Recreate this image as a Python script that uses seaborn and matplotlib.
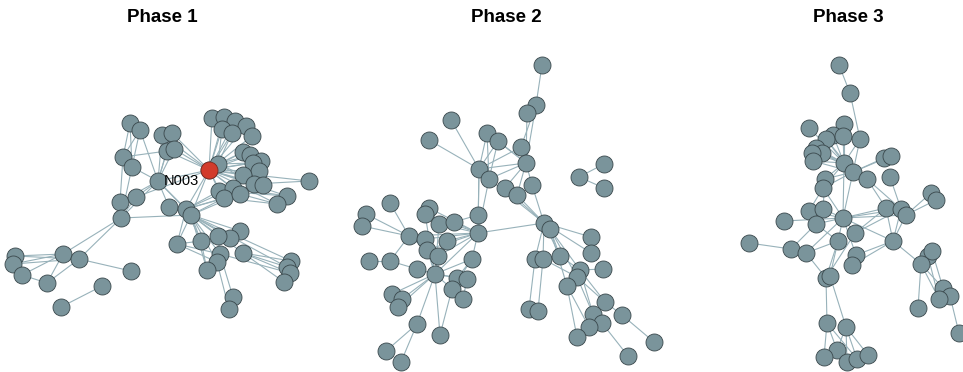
import matplotlib
matplotlib.use("Agg")
import matplotlib.pyplot as plt
from matplotlib.collections import LineCollection
import seaborn as sns
import pandas as pd

# ---- Phase 1 layout ----
p1_x = [130, 140, 123, 132, 158, 120, 136, 121, 15, 13, 63, 79, 22, 47, 131, 102, 61,
        212, 224, 235, 246, 222, 232, 252, 162, 172, 167, 174, 209, 218, 243, 250, 261,
        253, 259, 243, 254, 263, 309, 219, 233, 224, 240, 287, 277, 169, 186, 191, 240,
        230, 218, 201, 177, 243, 220, 217, 207, 291, 287, 290, 284, 233, 229]
p1_y = [123, 130, 157, 167, 181, 202, 197, 218, 256, 264, 254, 259, 275, 283, 271, 286, 307,
        118, 117, 121, 126, 129, 133, 136, 135, 133, 151, 149, 170, 164, 152, 155, 161,
        163, 171, 175, 184, 185, 181, 191, 188, 198, 194, 196, 204, 207, 209, 215, 231,
        238, 236, 241, 244, 253, 254, 262, 270, 261, 267, 273, 282, 297, 309]
p1_edges = [(0, 3), (1, 3), (1, 2), (1, 4), (0, 2), (2, 26), (3, 4), (3, 7), (2, 5),
            (5, 4), (6, 4), (5, 7), (6, 7), (7, 4), (7, 47), (7, 10), (7, 11), (6, 28),
            (10, 8), (10, 9), (10, 12), (10, 13), (11, 8), (11, 9), (11, 13), (11, 14),
            (12, 13), (15, 16),
            (28, 17), (28, 18), (28, 19), (28, 20), (28, 21), (28, 22), (28, 23), (28, 29),
            (28, 30), (28, 31), (28, 32), (28, 33), (28, 34), (28, 35), (28, 36), (28, 37),
            (28, 4), (28, 24), (28, 25), (28, 26), (28, 27), (28, 39), (28, 40), (28, 41),
            (28, 42), (28, 46), (28, 47), (28, 38), (28, 43), (28, 44),
            (4, 24), (4, 25), (4, 26), (4, 27), (4, 46), (4, 47), (4, 45),
            (29, 30), (29, 31), (29, 33), (29, 21), (29, 22), (29, 35), (29, 36),
            (17, 21), (18, 22), (19, 20), (20, 23), (24, 27), (25, 26),
            (39, 43), (41, 44), (40, 43), (42, 44), (36, 38), (35, 37),
            (46, 39), (46, 40), (46, 41), (46, 42), (47, 41), (47, 42),
            (47, 48), (47, 49), (47, 50), (47, 51), (47, 52), (47, 53), (47, 54), (47, 55),
            (47, 56), (47, 45), (46, 52), (46, 51), (47, 57), (47, 58),
            (53, 57), (53, 58), (53, 59), (53, 60), (54, 59), (48, 49),
            (52, 51), (52, 54), (52, 55), (50, 54), (54, 61), (55, 62), (61, 62), (56, 51)]

# ---- Phase 2 layout ----
p2_x = [542, 536, 527, 451, 429, 487, 498, 521, 479, 489, 526, 505, 517, 532, 604, 579, 604,
        390, 366, 362, 429, 425, 439, 454, 478, 409, 425, 447, 478, 427, 438, 369, 390,
        417, 435, 472, 457, 467, 452, 463, 392, 402, 398, 417, 440, 386, 401,
        544, 550, 591, 591, 535, 543, 560, 580, 603, 577, 567, 605, 593, 622, 602, 589,
        577, 529, 538, 654, 628]
p2_y = [65, 105, 113, 120, 140, 133, 141, 147, 169, 179, 163, 188, 195, 185, 164, 177, 188,
        203, 214, 226, 208, 214, 224, 222, 215, 236, 239, 241, 233, 250, 256, 261, 261,
        269, 274, 259, 278, 279, 289, 299, 294, 299, 307, 324, 335, 351, 362,
        223, 229, 237, 253, 259, 259, 256, 270, 269, 277, 286, 302, 314, 315, 323, 327,
        337, 309, 311, 342, 356]
p2_edges = [(0, 1), (1, 10), (2, 10), (1, 7), (3, 8), (4, 8), (5, 8), (6, 8), (5, 9),
            (6, 9), (5, 10), (6, 10), (8, 7), (8, 10), (8, 9), (8, 28), (9, 28), (10, 9),
            (10, 12), (10, 11), (13, 10), (11, 47), (12, 47), (13, 47), (9, 47),
            (15, 14), (15, 16),
            (28, 20), (28, 21), (28, 22), (28, 23), (28, 24), (28, 25), (28, 26), (28, 27),
            (28, 29), (28, 30), (28, 34), (28, 35), (28, 47), (28, 8), (24, 23), (20, 22),
            (21, 22), (22, 23),
            (17, 25), (18, 25), (19, 25), (25, 32), (25, 29), (31, 32), (32, 33), (33, 34),
            (34, 26), (34, 27), (34, 29), (34, 30), (34, 22), (34, 21), (34, 35), (34, 36),
            (34, 37), (34, 38), (34, 40), (34, 41), (34, 42), (34, 43), (34, 44), (34, 33),
            (43, 45), (43, 46), (40, 41), (41, 42), (44, 38), (36, 37), (38, 39), (37, 39),
            (35, 36), (35, 38),
            (47, 48), (47, 49), (47, 50), (47, 51), (47, 52), (47, 53), (48, 54), (48, 56),
            (48, 57), (51, 64), (52, 65), (53, 54), (54, 55), (54, 56), (56, 57), (56, 58),
            (56, 59), (57, 63), (57, 62), (58, 60), (60, 66), (59, 61), (61, 67), (59, 62),
            (54, 58), (54, 59), (48, 53), (52, 56)]

# ---- Phase 3 layout ----
p3_x = [839, 850, 809, 844, 833, 826, 843, 860, 816, 822, 812, 813, 844, 853, 884, 891,
        825, 867, 890, 823, 931, 936, 809, 823, 843, 886, 901, 906, 784, 816, 855, 838,
        893, 749, 791, 806, 856, 852, 826, 830, 928, 932, 921, 943, 950, 939, 918, 959,
        827, 846, 837, 824, 847, 857, 868]
p3_y = [65, 93, 128, 124, 135, 139, 136, 139, 148, 153, 153, 161, 163, 172, 158, 156,
        179, 179, 177, 188, 193, 200, 211, 209, 218, 208, 209, 215, 221, 224, 233, 241,
        241, 243, 249, 253, 255, 265, 278, 276, 256, 251, 264, 288, 296, 299, 308, 333,
        323, 327, 350, 357, 362, 359, 355]
p3_edges = [(0, 1), (1, 7), (7, 13), (7, 12),
            (12, 2), (12, 3), (12, 4), (12, 5), (12, 6), (12, 8), (12, 9), (12, 10), (12, 11),
            (12, 16), (12, 19), (12, 13), (13, 14), (13, 15), (13, 16), (13, 19), (13, 5),
            (13, 8), (13, 11), (12, 24), (13, 24), (16, 23), (19, 22), (19, 24), (3, 6),
            (17, 25), (17, 26), (18, 26),
            (24, 22), (24, 23), (24, 25), (24, 26), (24, 27), (24, 28), (24, 29), (24, 30),
            (24, 31), (24, 32), (24, 35), (24, 36), (25, 30), (26, 30), (27, 32), (25, 32),
            (26, 32), (20, 27), (21, 27),
            (33, 34), (34, 35), (34, 29), (35, 31), (35, 38), (31, 38), (31, 39), (30, 38),
            (36, 32), (37, 32), (29, 31),
            (38, 48), (39, 49), (48, 51), (48, 50), (49, 50), (49, 52), (49, 53), (49, 54),
            (50, 52), (48, 53),
            (32, 42), (42, 40), (42, 41), (42, 46), (42, 43), (42, 45), (41, 43), (43, 44),
            (44, 47), (40, 45)]

panel_titles = ["Phase 1", "Phase 2", "Phase 3"]
title_x = [162, 506, 848]
highlight_panel = 0
highlight_node = 28
highlight_label = "N003"

NODE_FILL = "#7a949b"
NODE_EDGE = "#39474b"
LINK_COLOR = "#98b2ba"
HUB_FILL = "#d23b2b"

sns.set_theme(style="white")
plt.rcParams["font.family"] = ["Liberation Sans", "DejaVu Sans"]

fig = plt.figure(figsize=(9.63, 3.72), dpi=100)
ax = fig.add_axes([0, 0, 1, 1])

panels = [(p1_x, p1_y, p1_edges), (p2_x, p2_y, p2_edges), (p3_x, p3_y, p3_edges)]
for pi, (xs, ys, edges) in enumerate(panels):
    segs = [[(xs[a], ys[a]), (xs[b], ys[b])] for a, b in edges]
    ax.add_collection(LineCollection(segs, colors=LINK_COLOR, linewidths=0.8, zorder=1))
    nodes = pd.DataFrame({"x": xs, "y": ys})
    sns.scatterplot(data=nodes, x="x", y="y", color=NODE_FILL,
                    s=150, edgecolor=NODE_EDGE, linewidth=0.6, legend=False,
                    zorder=2, ax=ax)
    if pi == highlight_panel:
        hub = nodes.iloc[[highlight_node]]
        sns.scatterplot(data=hub, x="x", y="y", color=HUB_FILL,
                        s=150, edgecolor="#7a2a20", linewidth=0.6, legend=False,
                        zorder=3, ax=ax)
    ax.text(title_x[pi], 17, panel_titles[pi], ha="center", va="center",
            fontsize=13.5, fontweight="bold", color="black")

hx, hy = p1_x[highlight_node], p1_y[highlight_node]
ax.text(hx - 10, hy + 11, highlight_label, ha="right", va="center",
        fontsize=10.5, color="black", zorder=4)

ax.set_xlim(0, 963)
ax.set_ylim(372, 0)
ax.set_axis_off()
fig.savefig("out.png", dpi=100)
